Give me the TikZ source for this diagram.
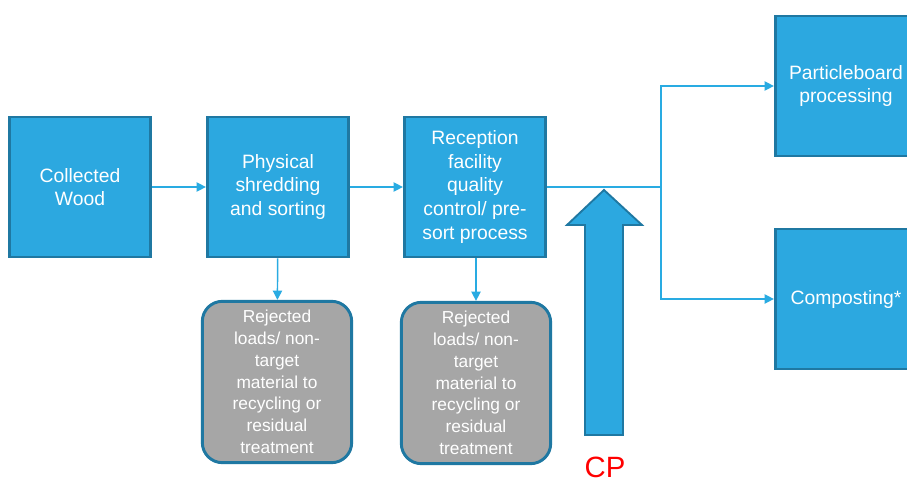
\documentclass[tikz,border=0pt]{standalone}
\usepackage{fontspec}
\setmainfont{Liberation Sans}
\usepackage{tikz}
\usetikzlibrary{positioning, calc, arrows.meta}

\definecolor{boxblue}{RGB}{44,168,224}
\definecolor{edgeblue}{RGB}{31,120,162}
\definecolor{lineblue}{RGB}{41,171,226}
\definecolor{rejgray}{RGB}{166,166,166}

\tikzset{
	stage/.style={draw=edgeblue, line width=2.2pt, fill=boxblue, text=white,
		minimum width=106pt, minimum height=105pt, align=center,
		font=\fontsize{14.5}{17.8}\selectfont},
	reject/.style={draw=edgeblue, line width=2.2pt, fill=rejgray, text=white,
		rounded corners=15pt, minimum width=112pt, minimum height=121pt, align=center,
		font=\fontsize{13}{16.3}\selectfont},
	flow/.style={draw=lineblue, line width=1.1pt, -{Triangle[length=7pt,width=7pt]}},
}

\begin{document}
\begin{tikzpicture}[x=0.75pt, y=-0.75pt]
			\clip (0,0) rectangle (907,485);
			\fill[white] (0,0) rectangle (907,485);
			
			\node[stage] (wood)   at (80, 187)  {Collected\\Wood};
			\node[stage] (shred)  at (278, 187) {Physical\\shredding\\and sorting};
			\node[stage] (recep)  at (475, 187) {Reception\\facility\\quality\\control/ pre-\\sort process};
			\node[stage] (board)  at (846, 86)  {Particleboard\\processing};
			\node[stage] (compost) at (846, 299) {Composting*};
			
			\node[reject] (rej1) at (277, 382) {Rejected\\loads/ non-\\target\\material to\\recycling or\\residual\\treatment};
			\node[reject] (rej2) at (476, 383) {Rejected\\loads/ non-\\target\\material to\\recycling or\\residual\\treatment};
			
			\coordinate (split) at (661, 187);
			
			\draw[flow] (wood) -- (shred);
			\draw[flow] (shred) -- (recep);
			\draw[draw=lineblue, line width=1.1pt] (recep) -- (split);
			\draw[flow] (split) |- (board);
			\draw[flow] (split) |- (compost);
			\draw[flow] (shred) -- (rej1);
			\draw[flow] (recep.south -| rej2) -- (rej2);
			
			% control point arrow
			\draw[draw=edgeblue, line width=1.4pt, fill=boxblue, line join=miter]
				(585, 435) -- (585, 225) -- (567, 225) -- (604, 190)
				-- (642, 225) -- (623, 225) -- (623, 435) -- cycle;
			\node[text=red, inner sep=0pt, font=\fontsize{22}{26}\selectfont] (cp) at (605, 467) {CP};
		\end{tikzpicture}
\end{document}
